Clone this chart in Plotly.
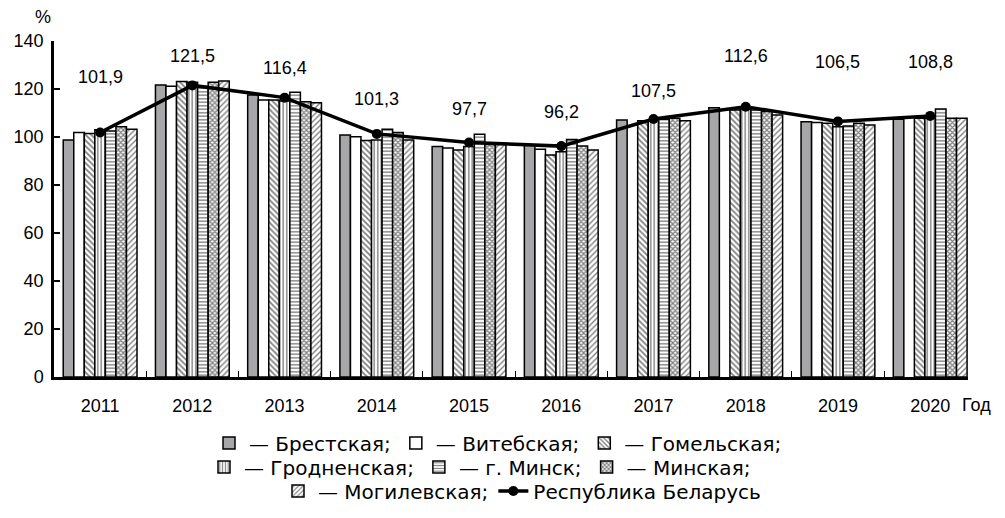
import plotly.graph_objects as go

years = ["2011", "2012", "2013", "2014", "2015", "2016", "2017", "2018", "2019", "2020"]

brest = [98.8, 121.7, 117.5, 100.8, 96.0, 96.7, 107.1, 112.2, 106.4, 107.4]
vitebsk = [101.9, 121.1, 115.4, 100.1, 95.4, 94.9, None, None, 106.0, None]
gomel = [101.5, 123.1, 115.4, 98.5, 94.6, 92.5, 106.8, 111.3, 105.7, 107.8]
grodno = [103.0, 122.8, 115.0, 98.8, 96.0, 93.9, 107.1, 111.7, 104.3, 107.8]
minsk_city = [102.5, 121.0, 118.6, 103.2, 101.1, 99.0, 107.4, 111.3, 104.6, 111.7]
minsk_region = [104.3, 122.8, 114.7, 101.9, 96.9, 96.3, 107.8, 110.6, 105.7, 107.8]
mogilev = [103.2, 123.3, 114.3, 98.8, 96.9, 94.6, 106.8, 109.2, 105.0, 107.8]
republic = [101.9, 121.5, 116.4, 101.3, 97.7, 96.2, 107.5, 112.6, 106.5, 108.8]

# vertical pixel offsets of the value labels above the line points
label_shift = [55, 29, 30, 35, 34, 34, 28, 51, 59, 54]

FONT = "Liberation Sans, Arial, sans-serif"
LEG_FONT = "DejaVu Sans, sans-serif"
BLACK = "#000000"

# page body has an 8px default margin: size the figure so it fills the window
OFF = 8
W, H = 1005 - OFF, 518 - OFF
ML, MR, MT, MB = 54 - OFF, 37, 41 - OFF, 141
PW, PH = W - ML - MR, H - MT - MB


def px_to_paper(xp, yp):
    # xp, yp: window pixel coordinates
    return (xp - OFF - ML) / PW, (H - MB - (yp - OFF)) / PH


def px_to_container(xp, yp):
    return (xp - OFF) / W, 1 - (yp - OFF) / H


series = [
    ("— Брестская;", brest, dict(color="#a7a7a9"), "legend"),
    ("— Витебская;", vitebsk, dict(color="#ffffff"), "legend"),
    ("— Гомельская;", gomel, dict(color="#ffffff", pattern=dict(shape="\\", fgcolor=BLACK, size=4, solidity=0.45)), "legend"),
    ("— Гродненская;", grodno, dict(color="#ffffff", pattern=dict(shape="|", fgcolor=BLACK, size=3.5, solidity=0.4)), "legend2"),
    ("— г. Минск;", minsk_city, dict(color="#ffffff", pattern=dict(shape="-", fgcolor=BLACK, size=3.5, solidity=0.4)), "legend2"),
    ("— Минская;", minsk_region, dict(color="#ffffff", pattern=dict(shape="x", fgcolor=BLACK, size=3.5, solidity=0.6)), "legend2"),
    ("— Могилевская;", mogilev, dict(color="#ffffff", pattern=dict(shape="/", fgcolor=BLACK, size=4, solidity=0.35)), "legend3"),
]

fig = go.Figure()
for name, vals, mk, lg in series:
    fig.add_trace(go.Bar(
        x=years, y=vals, name=name, legend=lg,
        marker=dict(**mk, line=dict(color=BLACK, width=1.5)),
    ))

fig.add_trace(go.Scatter(
    x=years, y=republic, name="Республика Беларусь", legend="legend3",
    mode="lines+markers",
    line=dict(color=BLACK, width=3.5),
    marker=dict(color=BLACK, size=10),
))

for i, (v, s) in enumerate(zip(republic, label_shift)):
    fig.add_annotation(
        x=i, y=v, xref="x", yref="y", text=f"{v:.1f}".replace(".", ","), showarrow=False,
        xanchor="center", yanchor="middle",
        yshift=s, font=dict(family=FONT, size=18, color=BLACK),
    )

px, py = px_to_paper(43, 17)
fig.add_annotation(x=px, y=py, xref="paper", yref="paper", text="%",
                   xanchor="center", yanchor="middle",
                   showarrow=False, font=dict(family=FONT, size=18, color=BLACK))
px, py = px_to_paper(993, 405)
fig.add_annotation(x=px, y=py, xref="paper", yref="paper", text="Год",
                   xanchor="right", yanchor="middle",
                   showarrow=False, font=dict(family=FONT, size=18, color=BLACK))

legend_common = dict(
    orientation="h", xref="container", yref="container", xanchor="center", yanchor="middle",
    font=dict(family=LEG_FONT, size=20, color=BLACK), bgcolor="rgba(0,0,0,0)",
    traceorder="normal", itemclick=False, itemdoubleclick=False,
)

l1x, l1y = px_to_container(498, 443)
l2x, l2y = px_to_container(480, 467)
l3x, l3y = px_to_container(522, 491)

fig.update_layout(
    width=W, height=H,
    margin=dict(l=ML, r=MR, t=MT, b=MB, autoexpand=False),
    paper_bgcolor="white", plot_bgcolor="white",
    barmode="group", bargap=0.2, bargroupgap=0,
    font=dict(family=FONT, size=18, color=BLACK),
    showlegend=True,
    legend=dict(**legend_common, x=l1x, y=l1y),
    legend2=dict(**legend_common, x=l2x, y=l2y),
    legend3=dict(**legend_common, x=l3x, y=l3y),
    xaxis=dict(
        type="category", range=[-0.5, 9.41],
        showline=True, linecolor=BLACK, linewidth=3,
        ticks="inside", tickson="boundaries", ticklen=6, tickcolor=BLACK, tickwidth=1,
        showgrid=False, zeroline=False,
        tickfont=dict(family=FONT, size=18, color=BLACK),
        ticklabelstandoff=10,
    ),
    yaxis=dict(
        range=[0, 140], tickvals=list(range(0, 141, 20)),
        showline=True, linecolor=BLACK, linewidth=2.5,
        ticks="inside", ticklen=6, tickcolor=BLACK, tickwidth=1.5,
        showgrid=False, zeroline=False,
        tickfont=dict(family=FONT, size=18, color=BLACK),
        ticklabelstandoff=4,
    ),
)

fig.write_html("out.html")
